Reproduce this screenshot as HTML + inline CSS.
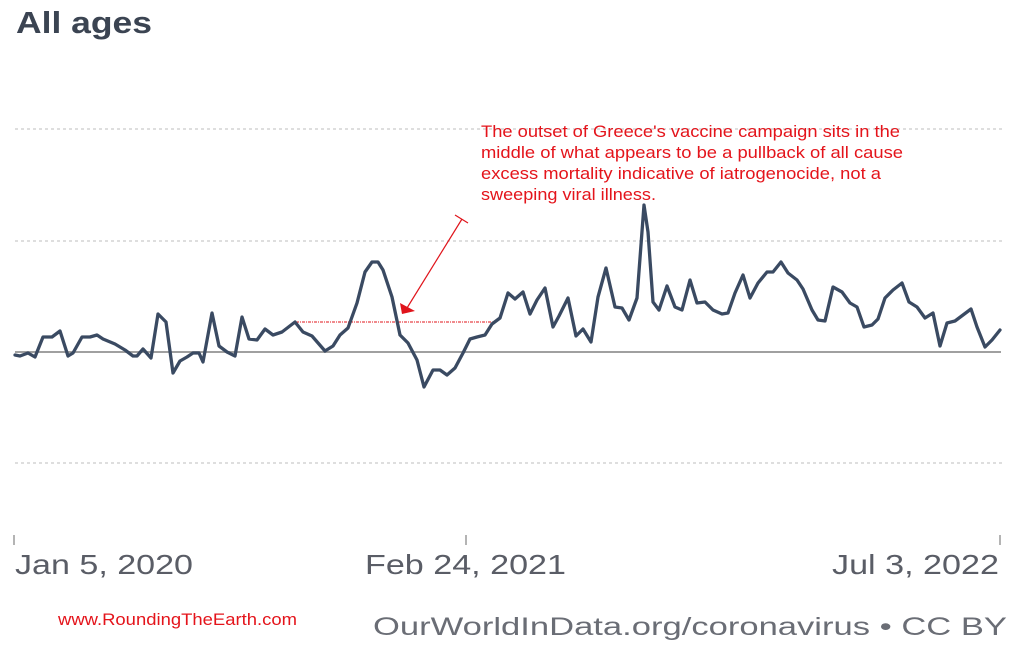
<!DOCTYPE html>
<html>
<head>
<meta charset="utf-8">
<style>
html,body{margin:0;padding:0;background:#fff;}
svg{display:block;}
</style>
</head>
<body>
<svg width="1024" height="647" viewBox="0 0 1024 647" xmlns="http://www.w3.org/2000/svg">
  <rect x="0" y="0" width="1024" height="647" fill="#fff"/>
  <!-- Title -->
  <text x="16" y="33" font-family="Liberation Sans, sans-serif" font-weight="bold" font-size="31" fill="#3b4452" textLength="136" lengthAdjust="spacingAndGlyphs">All ages</text>

  <!-- Gridlines -->
  <g stroke="#d4d4d4" stroke-width="1.5" stroke-dasharray="3,3">
    <line x1="15" y1="129" x2="1002" y2="129"/>
    <line x1="15" y1="241" x2="1002" y2="241"/>
    <line x1="15" y1="463" x2="1002" y2="463"/>
  </g>
  <!-- zero line -->
  <line x1="15" y1="352" x2="1001" y2="352" stroke="#a0a0a0" stroke-width="2"/>

  <!-- red dotted horizontal reference -->
  <line x1="296" y1="322" x2="493" y2="322" stroke="#e0141b" stroke-width="1" stroke-dasharray="3,1,1,1"/>

  <!-- Data line -->
  <polyline fill="none" stroke="#3a4a62" stroke-width="3.3" stroke-linejoin="round" stroke-linecap="round"
    points="15,355 20,356 28,353 35,357 43,337 52,337 60,331 68,356 73,353 82,337 90,337 97,335 103,339 115,344 125,350 133,356 137,356 143,349 151,358 158,314 166,322 173,373 180,361 187,357 193,353 199,353 203,362 212,313 219,346 227,352 235,356 242,317 249,339 257,340 265,329 273,335 282,332 295,322 303,332 312,336 325,351 333,346 340,335 348,328 357,303 365,272 372,262 378,262 383,270 392,297 400,335 408,343 417,360 424,387 433,370 440,370 447,375 455,368 463,353 470,339 477,337 485,335 492,324 500,318 508,293 515,299 523,292 530,314 537,300 545,288 553,327 559,316 568,298 576,336 583,329 591,342 598,297 606,268 615,307 622,308 629,320 637,298 644,205 648,232 653,302 659,310 667,286 675,307 682,310 690,280 697,303 705,302 713,310 722,314 728,313 735,293 743,275 750,298 758,283 767,272 773,272 781,262 788,273 797,280 803,289 812,310 818,320 825,321 833,287 842,292 850,303 857,307 864,327 872,325 878,319 885,298 893,290 902,283 909,302 917,307 925,318 933,313 940,346 947,323 955,321 971,309 977,327 985,347 992,340 1000,330"/>

  <!-- Arrow -->
  <line x1="462" y1="219" x2="407" y2="308" stroke="#e0141b" stroke-width="1.2"/>
  <line x1="455" y1="215" x2="468" y2="223" stroke="#e0141b" stroke-width="1.2"/>
  <polygon points="400,303 415,311 402,314" fill="#e0141b"/>

  <!-- Annotation -->
  <g font-family="Liberation Sans, Arial, sans-serif" font-size="16.5" fill="#e4141b">
    <text x="481" y="137" textLength="419" lengthAdjust="spacingAndGlyphs">The outset of Greece's vaccine campaign sits in the</text>
    <text x="481" y="158" textLength="422" lengthAdjust="spacingAndGlyphs">middle of what appears to be a pullback of all cause</text>
    <text x="481" y="179" textLength="400" lengthAdjust="spacingAndGlyphs">excess mortality indicative of iatrogenocide, not a</text>
    <text x="481" y="200" textLength="175" lengthAdjust="spacingAndGlyphs">sweeping viral illness.</text>
  </g>

  <!-- Ticks -->
  <g stroke="#9a9a9a" stroke-width="1.5">
    <line x1="14" y1="535" x2="14" y2="545"/>
    <line x1="466" y1="535" x2="466" y2="545"/>
    <line x1="1000" y1="535" x2="1000" y2="545"/>
  </g>

  <!-- Axis labels -->
  <g font-family="Liberation Sans, sans-serif" font-size="28" fill="#5a5d66">
    <text x="15" y="574" textLength="178" lengthAdjust="spacingAndGlyphs">Jan 5, 2020</text>
    <text x="365" y="574" textLength="201" lengthAdjust="spacingAndGlyphs">Feb 24, 2021</text>
    <text x="832" y="574" textLength="167" lengthAdjust="spacingAndGlyphs">Jul 3, 2022</text>
  </g>

  <!-- Footer -->
  <text x="58" y="625" font-family="Liberation Sans, Arial, sans-serif" font-size="17" fill="#e4141b" textLength="239" lengthAdjust="spacingAndGlyphs">www.RoundingTheEarth.com</text>
  <text x="373" y="635" font-family="Liberation Sans, sans-serif" font-size="25" fill="#6a6d75" textLength="634" lengthAdjust="spacingAndGlyphs">OurWorldInData.org/coronavirus • CC BY</text>
</svg>
</body>
</html>
